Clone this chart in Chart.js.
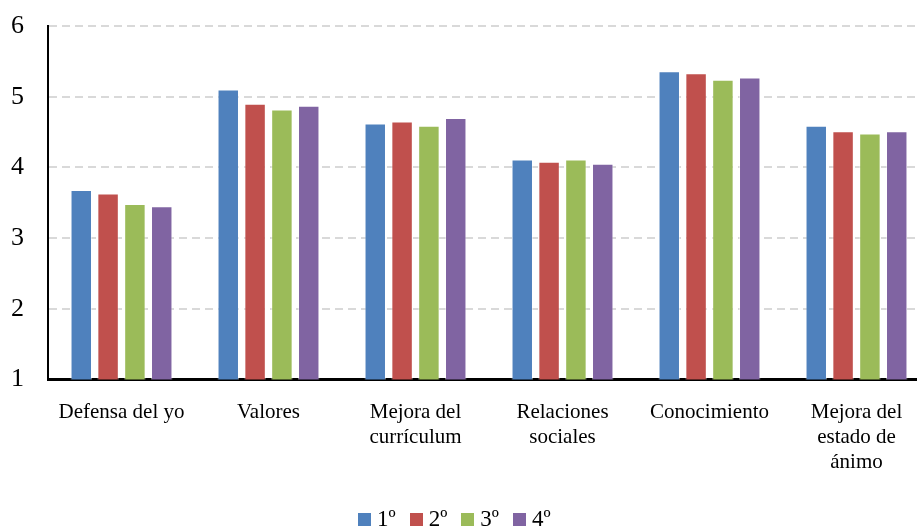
<!DOCTYPE html>
<html>
<head>
<meta charset="utf-8">
<script src="https://cdn.jsdelivr.net/npm/chart.js@4"></script>
<style>
  html, body { margin: 0; padding: 0; background: #fff; overflow: hidden; }
  #wrap { position: relative; width: 930px; height: 528px; }
  #legend {
    position: absolute; left: 358px; top: 506px;
    display: flex; align-items: center;
    font-family: "Liberation Serif", "Times New Roman", serif; font-size: 23px; color: #000;
  }
  #legend span.box { display: inline-block; width: 13px; height: 13px; margin-right: 6px; }
  #legend span.item { display: inline-flex; align-items: center; margin-right: 14px; }
</style>
</head>
<body>
<div id="wrap">
  <canvas id="chart" width="930" height="528"></canvas>
  <div id="legend"></div>
</div>
<script>
const categories = [
  "Defensa del yo",
  "Valores",
  ["Mejora del", "currículum"],
  ["Relaciones", "sociales"],
  "Conocimiento",
  ["Mejora del", "estado de", "ánimo"]
];
const seriesNames = ["1º", "2º", "3º", "4º"];
const primero = [3.68, 5.10, 4.62, 4.11, 5.36, 4.59];
const segundo = [3.63, 4.90, 4.65, 4.08, 5.33, 4.51];
const tercero = [3.48, 4.82, 4.59, 4.11, 5.24, 4.48];
const cuarto  = [3.45, 4.87, 4.70, 4.05, 5.27, 4.51];
const yTicks = [1, 2, 3, 4, 5, 6];

const colors = ["#4F81BD", "#C0504D", "#9BBB59", "#8064A2"];
const values = [primero, segundo, tercero, cuarto];

const serif = "'Liberation Serif', 'Times New Roman', serif";

const ctx = document.getElementById("chart").getContext("2d");

new Chart(ctx, {
  type: "bar",
  data: {
    labels: categories,
    datasets: values.map((v, i) => ({
      label: seriesNames[i],
      data: v,
      backgroundColor: colors[i],
      borderColor: "rgba(255,255,255,0.45)",
      borderWidth: 1,
      barPercentage: 0.8,
      categoryPercentage: 0.73
    }))
  },
  options: {
    responsive: false,
    animation: false,
    layout: { padding: { left: 11, right: 0, top: 26, bottom: 33 } },
    plugins: { legend: { display: false }, tooltip: { enabled: false } },
    scales: {
      x: {
        grid: { display: false, drawTicks: false },
        border: { display: true, color: "#000", width: 3 },
        ticks: {
          color: "#000",
          font: { family: serif, size: 21, lineHeight: 1.2 },
          padding: 20,
          maxRotation: 0,
          autoSkip: false
        }
      },
      y: {
        min: yTicks[0],
        max: yTicks[yTicks.length - 1],
        afterFit: (s) => { s.width = 37; s.paddingTop = 0; s.paddingBottom = 0; },
        grid: { color: "#D9D9D9", lineWidth: 2, drawTicks: false },
        border: { display: true, color: "#000", width: 2, dash: [8, 5] },
        ticks: {
          stepSize: 1,
          color: "#000",
          font: { family: serif, size: 26 },
          padding: 24
        }
      }
    }
  }
});

const legend = document.getElementById("legend");
seriesNames.forEach((name, i) => {
  const item = document.createElement("span");
  item.className = "item";
  item.innerHTML = '<span class="box" style="background:' + colors[i] + '"></span>' + name;
  legend.appendChild(item);
});
</script>
</body>
</html>
